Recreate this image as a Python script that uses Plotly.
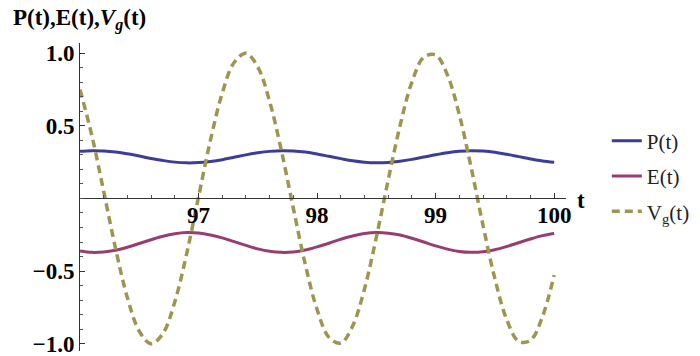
import plotly.graph_objects as go

## time samples, t = 96.0 ... 100.0 in steps of 0.1
t = [96.0, 96.1, 96.2, 96.3, 96.4, 96.5, 96.6, 96.7, 96.8, 96.9,
     97.0, 97.1, 97.2, 97.3, 97.4, 97.5, 97.6, 97.7, 97.8, 97.9,
     98.0, 98.1, 98.2, 98.3, 98.4, 98.5, 98.6, 98.7, 98.8, 98.9,
     99.0, 99.1, 99.2, 99.3, 99.4, 99.5, 99.6, 99.7, 99.8, 99.9,
     100.0]

p_t = [0.324, 0.329, 0.327, 0.320, 0.307, 0.292, 0.275, 0.261, 0.250, 0.245,
       0.247, 0.255, 0.267, 0.283, 0.300, 0.314, 0.324, 0.329, 0.327, 0.319,
       0.306, 0.290, 0.274, 0.259, 0.249, 0.245, 0.247, 0.256, 0.269, 0.285,
       0.301, 0.315, 0.325, 0.329, 0.326, 0.318, 0.304, 0.288, 0.272, 0.258,
       0.249]

e_t = [-0.362, -0.371, -0.368, -0.356, -0.336, -0.310, -0.284, -0.260, -0.243, -0.235,
       -0.238, -0.251, -0.271, -0.297, -0.323, -0.347, -0.364, -0.371, -0.368, -0.355,
       -0.333, -0.308, -0.281, -0.258, -0.242, -0.235, -0.239, -0.252, -0.274, -0.300,
       -0.326, -0.349, -0.365, -0.371, -0.367, -0.353, -0.331, -0.305, -0.279, -0.256,
       -0.241]

vg_t = [0.750, 0.433, 0.048, -0.345, -0.683, -0.914, -1.000, -0.929, -0.711, -0.380,
        0.011, 0.399, 0.725, 0.936, 0.999, 0.905, 0.667, 0.325, -0.069, -0.452,
        -0.764, -0.956, -0.996, -0.878, -0.623, -0.267, 0.127, 0.501, 0.801, 0.972,
        0.988, 0.849, 0.576, 0.212, -0.185, -0.552, -0.834, -0.983, -0.977, -0.817,
        -0.528]

x_ticks = [97, 98, 99, 100]
y_ticks = [-1.0, -0.5, 0.5, 1.0]
y_tick_labels = ['\u22121.0', '\u22120.5', '0.5', '1.0']

serif = 'Liberation Serif'
y_lo, y_hi = -1.05, 1.07
zero_pos = -y_lo / (y_hi - y_lo)   # where y = 0 sits inside the plot area

fig = go.Figure()
fig.add_trace(go.Scatter(x=t, y=p_t, name='P(t)', mode='lines', legendgroup='p',
                         line=dict(color='#3d3d99', width=3, shape='spline')))
fig.add_trace(go.Scatter(x=t, y=e_t, name='E(t)', mode='lines', legendgroup='e',
                         line=dict(color='#993d71', width=3, shape='spline')))
fig.add_trace(go.Scatter(x=t, y=vg_t, name='V<sub>g</sub>(t)', mode='lines', legendgroup='v',
                         line=dict(color='#9c9650', width=3.5, dash='8px,5px', shape='spline')))

# page body adds an 8px offset, so the figure is 8px smaller and margins shifted
fig.update_layout(
    width=692, height=348,
    margin=dict(l=72, r=128, t=35, b=5),
    plot_bgcolor='white', paper_bgcolor='white',
    font=dict(family=serif, color='black'),
    legend=dict(x=1.084, y=0.748, xanchor='left', yanchor='top',
                font=dict(family=serif, size=21, color='#222'),
                tracegroupgap=5, bgcolor='rgba(0,0,0,0)'),
    xaxis=dict(range=[96, 100.1], anchor='free', position=zero_pos, automargin=False,
               showline=True, linecolor='#333', linewidth=1,
               showgrid=False, zeroline=False,
               tickvals=x_ticks, ticks='inside', ticklen=5, tickcolor='#333',
               ticklabelstandoff=-4, ticklabeloverflow='allow',
               tickfont=dict(family=serif, size=23, color='black', weight='bold'),
               minor=dict(dtick=0.2, tick0=96, ticks='inside', ticklen=3, tickcolor='#555')),
    yaxis=dict(range=[y_lo, y_hi], automargin=False,
               showline=True, linecolor='#333', linewidth=1,
               showgrid=False, zeroline=False,
               tickvals=y_ticks, ticktext=y_tick_labels,
               ticks='inside', ticklen=5, tickcolor='#333', ticklabeloverflow='allow',
               tickfont=dict(family=serif, size=23, color='black', weight='bold'),
               minor=dict(dtick=0.1, tick0=0, ticks='inside', ticklen=3, tickcolor='#555')),
)

fig.add_annotation(text='<b>P(t),E(t),<i>V</i><sub><i>g</i></sub>(t)</b>',
                   xref='paper', yref='paper', x=-0.142, y=1.076,
                   xanchor='left', yanchor='middle', showarrow=False,
                   font=dict(family=serif, size=23, color='black'))
fig.add_annotation(text='<b>t</b>', xref='paper', yref='paper',
                   x=1.03, y=zero_pos - 0.008, xanchor='center', yanchor='middle',
                   showarrow=False, font=dict(family=serif, size=23, color='black'))

fig.write_html("out.html")
